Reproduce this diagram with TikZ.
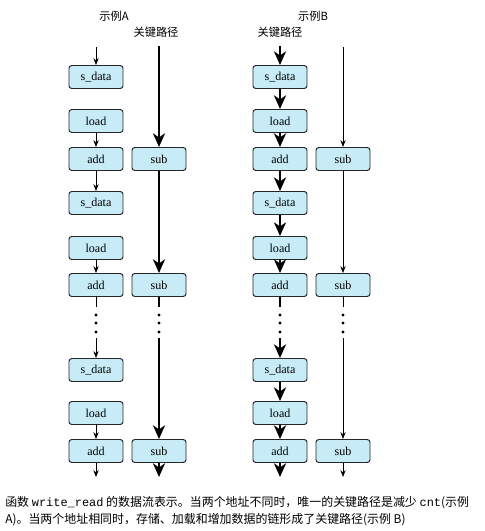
\documentclass[tikz,border=0pt]{standalone}
\usepackage{fontspec}
\setmainfont{Liberation Serif}
\setmonofont{Liberation Mono}
\newfontfamily\cjk{Noto Sans CJK SC}
\usepackage{tikz}
\usetikzlibrary{arrows.meta,positioning,calc}
\definecolor{boxfill}{RGB}{200,236,247}
\tikzset{
  op/.style={draw=black!85,fill=boxfill,rounded corners=2pt,line width=0.7pt,
             minimum width=1.35cm,minimum height=0.575cm,inner sep=0pt,
             font=\fontsize{8.6}{9}\selectfont},        % 操作：浅蓝底 + 圆角
  ar/.style={-{Stealth[length=1.7mm,width=1.3mm]},line width=0.55pt},   % 普通数据流
  crit/.style={-{Stealth[length=3.4mm,width=3.0mm,inset=1mm]},line width=2.1pt}, % 关键路径
  lbl/.style={font=\cjk\fontsize{8}{9}\selectfont,inner sep=1pt}
}

\begin{document}
\begin{tikzpicture}
  \useasboundingbox (0,0) rectangle (12.125,-13.275);
  % 示例A
  \node[lbl] (tA) at (2.85,-0.40) {示例A};
  \node[lbl] (kA) at (3.90,-0.80) {关键路径};
  \node[op] (a1) at (2.40,-1.925) {s\_data};
  \node[op] (a2) at (2.40,-3.025) {load};
  \node[op] (a3) at (2.40,-3.975) {add};
  \node[op] (a4) at (2.40,-5.075) {s\_data};
  \node[op] (a5) at (2.40,-6.200) {load};
  \node[op] (a6) at (2.40,-7.125) {add};
  \node[op] (a7) at (2.40,-9.250) {s\_data};
  \node[op] (a8) at (2.40,-10.325) {load};
  \node[op] (a9) at (2.40,-11.275) {add};
  \node[op] (as1) at (3.975,-3.975) {sub};
  \node[op] (as2) at (3.975,-7.125) {sub};
  \node[op] (as3) at (3.975,-11.275) {sub};
  \coordinate (a0) at (2.40,-1.175);   \coordinate (aE) at (2.40,-11.925);
  \coordinate (as0) at (3.975,-1.15);  \coordinate (asE) at (3.975,-11.925);
  \coordinate (ag1) at (2.40,-7.675);  \coordinate (ag2) at (2.40,-8.45);
  \coordinate (asg1) at (3.975,-7.675); \coordinate (asg2) at (3.975,-8.45);
  \draw[ar] (a0) -- (a1);
  \draw[ar] (a2) -- (a3);
  \draw[ar] (a3) -- (a4);
  \draw[ar] (a5) -- (a6);
  \draw[ar,-] (a6) -- (ag1);
  \draw[ar] (ag2) -- (a7);
  \draw[ar] (a8) -- (a9);
  \draw[ar] (a9) -- (aE);
  \draw[crit] (as0) -- (as1);
  \draw[crit] (as1) -- (as2);
  \draw[crit,-] (as2) -- (asg1);
  \draw[crit] (asg2) -- (as3);
  \draw[crit] (as3) -- (asE);

  % 示例B
  \node[lbl] (tB) at (7.825,-0.40) {示例B};
  \node[lbl] (kB) at (7.00,-0.80) {关键路径};
  \node[op] (b1) at (7.00,-1.925) {s\_data};
  \node[op] (b2) at (7.00,-3.025) {load};
  \node[op] (b3) at (7.00,-3.975) {add};
  \node[op] (b4) at (7.00,-5.075) {s\_data};
  \node[op] (b5) at (7.00,-6.200) {load};
  \node[op] (b6) at (7.00,-7.125) {add};
  \node[op] (b7) at (7.00,-9.250) {s\_data};
  \node[op] (b8) at (7.00,-10.325) {load};
  \node[op] (b9) at (7.00,-11.275) {add};
  \node[op] (bs1) at (8.575,-3.975) {sub};
  \node[op] (bs2) at (8.575,-7.125) {sub};
  \node[op] (bs3) at (8.575,-11.275) {sub};
  \coordinate (b0) at (7.00,-1.15);    \coordinate (bE) at (7.00,-11.925);
  \coordinate (bs0) at (8.575,-1.175); \coordinate (bsE) at (8.575,-11.925);
  \coordinate (bg1) at (7.00,-7.675);  \coordinate (bg2) at (7.00,-8.45);
  \coordinate (bsg1) at (8.575,-7.675); \coordinate (bsg2) at (8.575,-8.45);
  \draw[crit] (b0) -- (b1);
  \draw[crit] (b1) -- (b2);
  \draw[crit] (b2) -- (b3);
  \draw[crit] (b3) -- (b4);
  \draw[crit] (b4) -- (b5);
  \draw[crit] (b5) -- (b6);
  \draw[crit,-] (b6) -- (bg1);
  \draw[crit] (bg2) -- (b7);
  \draw[crit] (b7) -- (b8);
  \draw[crit] (b8) -- (b9);
  \draw[crit] (b9) -- (bE);
  \draw[ar] (bs0) -- (bs1);
  \draw[ar] (bs1) -- (bs2);
  \draw[ar,-] (bs2) -- (bsg1);
  \draw[ar] (bsg2) -- (bs3);
  \draw[ar] (bs3) -- (bsE);

  % 省略号
  \foreach \x in {2.40,3.975,7.00,8.575}
    \foreach \y in {-7.875,-8.075,-8.30}
      \fill (\x,\y) circle (1.2pt);

  % 图注
  \node[anchor=north west,align=left,inner sep=0pt,
        font=\cjk\fontsize{8.5}{12}\selectfont] (cap) at (0.125,-12.40)
    {函数 \texttt{write\_read} 的数据流表示。当两个地址不同时，唯一的关键路径是减少 \texttt{cnt}(示例\\
     A)。当两个地址相同时，存储、加载和增加数据的链形成了关键路径(示例 B)};
\end{tikzpicture}
\end{document}
